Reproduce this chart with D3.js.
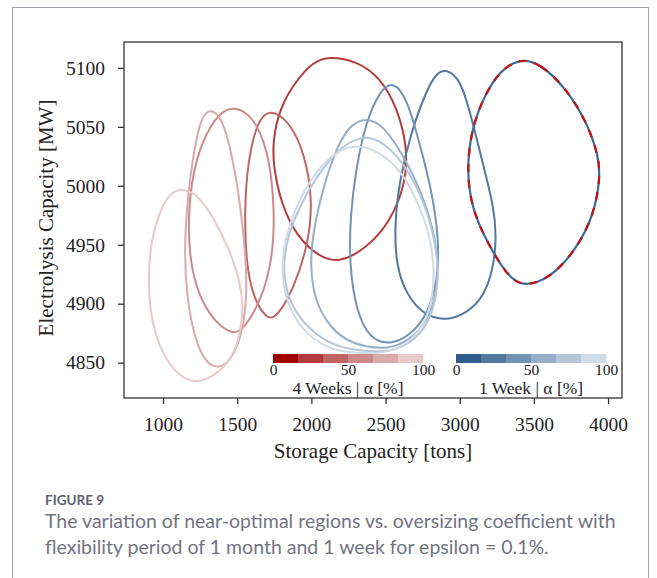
<!DOCTYPE html>
<html>
<head>
<meta charset="utf-8">
<script src="https://cdn.jsdelivr.net/npm/d3@7"></script>
<style>
  body { margin: 0; background: #fff; }
  svg { display: block; }
</style>
</head>
<body>
<div id="chart"></div>
<script>
// near-optimal regions, storage [tons] vs electrolysis [MW]

var xTickVals = [1000, 1500, 2000, 2500, 3000, 3500, 4000];
var yTickVals = [4850, 4900, 4950, 5000, 5050, 5100];
var alphaTicks = [0, 50, 100];

// alpha = 0 : both flexibility periods give the same region
var regionA0 = [[3407,5108],[3542,5104],[3722,5082],[3857,5054],[3938,5025],[3946,5005],[3905,4976],[3792,4947],[3609,4921],[3418,4914],[3314,4925],[3180,4953],[3078,4982],[3048,5014],[3078,5047],[3159,5075],[3272,5098]];

// 4 weeks
var weeks4A20 = [[2114,5110],[2306,5106],[2463,5092],[2580,5066],[2647,5033],[2636,5002],[2534,4970],[2373,4947],[2182,4934],[2036,4941],[1898,4958],[1796,4985],[1744,5016],[1740,5038],[1785,5066],[1901,5090],[2013,5105]];
var weeks4A40 = [[1715,5066],[1860,5054],[1960,5025],[2008,4988],[1982,4952],[1880,4912],[1769,4889],[1701,4886],[1604,4906],[1560,4936],[1549,4978],[1570,5020],[1634,5054]];
var weeks4A60 = [[1485,5068],[1612,5058],[1702,5032],[1748,4992],[1748,4950],[1702,4918],[1612,4891],[1519,4876],[1474,4875],[1384,4880],[1258,4901],[1189,4930],[1167,4964],[1189,5004],[1258,5037],[1373,5062]];
var weeks4A80 = [[1317,5066],[1399,5058],[1466,5026],[1522,4984],[1557,4942],[1568,4902],[1522,4869],[1452,4851],[1373,4845],[1292,4849],[1212,4870],[1156,4908],[1144,4950],[1167,4992],[1212,5033],[1258,5058]];
var weeks4A100 = [[1137,4997],[1230,4993],[1342,4973],[1443,4947],[1522,4919],[1545,4893],[1500,4861],[1384,4841],[1227,4832],[1112,4838],[998,4856],[920,4885],[897,4919],[920,4956],[998,4985],[1069,4996]];

// 1 week
var week1A20 = [[2908,5099],[3002,5091],[3072,5062],[3161,5016],[3231,4982],[3249,4954],[3220,4925],[3139,4901],[3002,4889],[2890,4886],[2752,4891],[2640,4908],[2572,4932],[2560,4966],[2594,5005],[2673,5046],[2776,5081],[2845,5096]];
var week1A40 = [[2553,5089],[2646,5074],[2736,5033],[2815,4994],[2860,4954],[2853,4920],[2781,4890],[2665,4873],[2530,4865],[2393,4870],[2302,4894],[2257,4932],[2261,4974],[2302,5016],[2370,5055],[2463,5081]];
var week1A60 = [[2373,5058],[2488,5051],[2623,5025],[2736,4997],[2825,4963],[2860,4932],[2838,4903],[2758,4880],[2620,4866],[2485,4861],[2261,4866],[2123,4880],[2021,4903],[1992,4932],[2009,4960],[2078,4998],[2168,5032],[2261,5052]];
var week1A80 = [[2362,5043],[2488,5037],[2623,5019],[2736,4994],[2825,4960],[2860,4929],[2838,4900],[2758,4876],[2620,4863],[2485,4859],[2350,4860],[2168,4863],[1988,4877],[1852,4900],[1807,4926],[1830,4954],[1921,4983],[2055,5012],[2213,5035]];
var week1A100 = [[2306,5035],[2444,5030],[2601,5014],[2713,4988],[2803,4957],[2830,4929],[2815,4900],[2736,4876],[2598,4862],[2463,4858],[2328,4858],[2145,4860],[1966,4873],[1841,4897],[1796,4926],[1819,4954],[1898,4983],[2010,5009],[2168,5030]];

var redSteps = ["#a00000", "#b23b3b", "#c06565", "#cc8a8a", "#d8aaaa", "#e8caca"];
var blueSteps = ["#2f5b8d", "#52789f", "#7393b4", "#97aec8", "#b5c6d8", "#d0dbe6"];

var redLines = [weeks4A20, weeks4A40, weeks4A60, weeks4A80, weeks4A100];
var blueLines = [week1A20, week1A40, week1A60, week1A80, week1A100];

var margin = {left: 124, top: 42, right: 35, bottom: 180},
    width = 498,
    height = 356;

var svg = d3.select("#chart").append("svg")
    .attr("width", 657)
    .attr("height", 578);

// card frame
svg.append("rect")
    .attr("x", 12.5).attr("y", 7.5)
    .attr("width", 636).attr("height", 600)
    .attr("fill", "none")
    .attr("stroke", "#a3a3ab")
    .attr("stroke-width", 1);

var g = svg.append("g")
    .attr("transform", "translate(" + margin.left + "," + margin.top + ")");

var x = d3.scaleLinear().domain([737, 4094]).range([0, width]);
var y = d3.scaleLinear().domain([4820, 5122]).range([height, 0]);

var loop = d3.line()
    .x(function(d){ return x(d[0]); })
    .y(function(d){ return y(d[1]); })
    .curve(d3.curveBasisClosed);

var serif = "'Liberation Serif', 'Times New Roman', serif";

// axes
var xAxis = g.append("g")
    .attr("transform", "translate(0," + height + ")")
    .call(d3.axisBottom(x).tickValues(xTickVals).tickSize(6).tickPadding(13).tickFormat(d3.format("d")));
var yAxis = g.append("g")
    .call(d3.axisLeft(y).tickValues(yTickVals).tickSize(6).tickPadding(13).tickFormat(d3.format("d")));
[xAxis, yAxis].forEach(function(a){
    a.select(".domain").remove();
    a.selectAll("line").attr("stroke", "#333").attr("stroke-width", 1.3);
    a.selectAll("text").attr("font-family", serif).attr("font-size", 19.5).attr("fill", "#222");
});

// regions
var plot = g.append("g");
redLines.forEach(function(r, i){
    plot.append("path").datum(r)
        .attr("d", loop)
        .attr("fill", "none")
        .attr("stroke", redSteps[i + 1])
        .attr("stroke-width", 2);
});
blueLines.forEach(function(r, i){
    plot.append("path").datum(r)
        .attr("d", loop)
        .attr("fill", "none")
        .attr("stroke", blueSteps[i + 1])
        .attr("stroke-width", 2);
});
plot.append("path").datum(regionA0)
    .attr("d", loop)
    .attr("fill", "none")
    .attr("stroke", "#3b6a9a")
    .attr("stroke-width", 2.2);
plot.append("path").datum(regionA0)
    .attr("d", loop)
    .attr("fill", "none")
    .attr("stroke", "#c41010")
    .attr("stroke-width", 2.2)
    .attr("stroke-dasharray", "8,8");

// frame
g.append("rect")
    .attr("width", width).attr("height", height)
    .attr("fill", "none")
    .attr("stroke", "#333")
    .attr("stroke-width", 1.3);

// colorbars
function colorbar(x0, steps, label) {
    var cb = svg.append("g").attr("transform", "translate(" + x0 + ",354)");
    var s = d3.scaleLinear().domain([0, 100]).range([0, 150]);
    var band = d3.scaleBand().domain(d3.range(steps.length)).range([0, 150]);
    cb.selectAll("rect").data(steps).enter().append("rect")
        .attr("x", function(d, i){ return band(i); })
        .attr("width", band.bandwidth() + 0.3)
        .attr("height", 9)
        .attr("fill", function(d){ return d; });
    var ax = cb.append("g")
        .attr("transform", "translate(0,9)")
        .call(d3.axisBottom(s).tickValues(alphaTicks).tickSize(0).tickPadding(1));
    ax.select(".domain").remove();
    ax.selectAll("text").attr("font-family", serif).attr("font-size", 15.5).attr("fill", "#222");
    cb.append("text")
        .attr("x", 75).attr("y", 40)
        .attr("text-anchor", "middle")
        .attr("font-family", serif).attr("font-size", 17.5).attr("fill", "#222")
        .text(label);
}
colorbar(273, redSteps, "4 Weeks | \u03b1 [%]");
colorbar(456, blueSteps, "1 Week | \u03b1 [%]");

// axis titles
svg.append("text")
    .attr("x", margin.left + width / 2).attr("y", 458)
    .attr("text-anchor", "middle")
    .attr("font-family", serif).attr("font-size", 21).attr("fill", "#222")
    .text("Storage Capacity [tons]");
svg.append("text")
    .attr("transform", "translate(53,218) rotate(-90)")
    .attr("text-anchor", "middle")
    .attr("font-family", serif).attr("font-size", 21).attr("fill", "#222")
    .text("Electrolysis Capacity [MW]");

// caption
var sans = "Lato, 'Open Sans', sans-serif";
svg.append("text")
    .attr("x", 45).attr("y", 505)
    .attr("font-family", sans).attr("font-size", 13.5).attr("font-weight", 700)
    .attr("fill", "#5d6170")
    .text("FIGURE 9");
svg.append("text")
    .attr("x", 45).attr("y", 528)
    .attr("font-family", sans).attr("font-size", 19.5)
    .attr("fill", "#73757f")
    .text("The variation of near-optimal regions vs. oversizing coefficient with");
svg.append("text")
    .attr("x", 45).attr("y", 554)
    .attr("font-family", sans).attr("font-size", 19.5)
    .attr("fill", "#73757f")
    .text("flexibility period of 1 month and 1 week for epsilon = 0.1%.");
</script>
</body>
</html>
